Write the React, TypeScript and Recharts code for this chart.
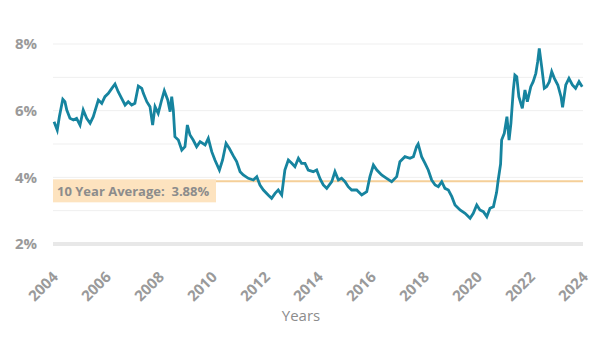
import { CartesianGrid, Line, LineChart, ReferenceLine, XAxis, YAxis } from "recharts";

// decimal year of each reading
const years = [
  2004.04, 2004.16, 2004.24, 2004.37, 2004.45, 2004.52, 2004.64, 2004.77, 2004.89, 2005.02,
  2005.14, 2005.27, 2005.4, 2005.52, 2005.71, 2005.84, 2005.96, 2006.09, 2006.22, 2006.34,
  2006.46, 2006.59, 2006.72, 2006.84, 2006.97, 2007.09, 2007.22, 2007.35, 2007.41, 2007.54,
  2007.66, 2007.76, 2007.85, 2007.97, 2008.1, 2008.2, 2008.33, 2008.42, 2008.48, 2008.54,
  2008.6, 2008.73, 2008.86, 2008.98, 2009.07, 2009.17, 2009.29, 2009.42, 2009.55, 2009.74,
  2009.86, 2009.99, 2010.11, 2010.28, 2010.4, 2010.53, 2010.65, 2010.8, 2010.93, 2011.06,
  2011.18, 2011.37, 2011.56, 2011.69, 2011.81, 2011.94, 2012.12, 2012.25, 2012.38, 2012.5,
  2012.63, 2012.75, 2012.88, 2013.01, 2013.13, 2013.26, 2013.38, 2013.51, 2013.63, 2013.82,
  2013.95, 2014.08, 2014.2, 2014.33, 2014.52, 2014.64, 2014.77, 2014.89, 2015.02, 2015.14,
  2015.27, 2015.46, 2015.65, 2015.84, 2015.96, 2016.09, 2016.22, 2016.4, 2016.59, 2016.78,
  2016.97, 2017.09, 2017.28, 2017.47, 2017.6, 2017.72, 2017.78, 2017.91, 2018.04, 2018.16,
  2018.29, 2018.42, 2018.54, 2018.67, 2018.79, 2018.92, 2019.05, 2019.17, 2019.36, 2019.55,
  2019.74, 2019.86, 2019.99, 2020.11, 2020.24, 2020.37, 2020.49, 2020.62, 2020.74, 2020.8,
  2020.89, 2020.93, 2021.03, 2021.13, 2021.21, 2021.28, 2021.37, 2021.43, 2021.5, 2021.58,
  2021.71, 2021.81, 2021.9, 2022.03, 2022.12, 2022.22, 2022.29, 2022.35, 2022.44, 2022.54,
  2022.63, 2022.73, 2022.82, 2022.92, 2023.05, 2023.17, 2023.23, 2023.35, 2023.47, 2023.6,
  2023.72, 2023.85, 2023.97,
];

// rate in percent at each of those points
const rates = [
  5.67, 5.42, 5.82, 6.34, 6.27, 6.02, 5.77, 5.72, 5.77, 5.57,
  6.02, 5.77, 5.62, 5.82, 6.32, 6.22, 6.42, 6.52, 6.67, 6.8,
  6.57, 6.37, 6.17, 6.27, 6.17, 6.22, 6.74, 6.67, 6.52, 6.27,
  6.12, 5.57, 6.12, 5.92, 6.32, 6.6, 6.32, 5.97, 6.42, 6.02,
  5.22, 5.12, 4.82, 4.92, 5.57, 5.27, 5.12, 4.92, 5.07, 4.97,
  5.17, 4.77, 4.52, 4.22, 4.52, 5.02, 4.87, 4.65, 4.47, 4.17,
  4.07, 3.97, 3.92, 4.02, 3.77, 3.62, 3.47, 3.37, 3.52, 3.62,
  3.47, 4.22, 4.52, 4.42, 4.32, 4.57, 4.42, 4.42, 4.22, 4.17,
  4.22, 3.95, 3.77, 3.67, 3.87, 4.17, 3.92, 3.97, 3.87, 3.72,
  3.62, 3.62, 3.47, 3.57, 4.02, 4.37, 4.22, 4.07, 3.97, 3.87,
  4.02, 4.47, 4.62, 4.57, 4.62, 4.92, 5.0, 4.62, 4.42, 4.22,
  3.92, 3.77, 3.72, 3.87, 3.67, 3.62, 3.42, 3.17, 3.02, 2.92,
  2.77, 2.92, 3.17, 3.02, 2.97, 2.82, 3.07, 3.12, 3.55, 3.92,
  4.4, 5.12, 5.32, 5.82, 5.12, 5.62, 6.62, 7.07, 7.02, 6.42,
  6.07, 6.62, 6.27, 6.72, 6.87, 7.12, 7.47, 7.87, 7.32, 6.67,
  6.72, 6.87, 7.17, 6.97, 6.77, 6.42, 6.1, 6.77, 6.97, 6.77,
  6.67, 6.87, 6.72,
];

const yearTicks = [2004, 2006, 2008, 2010, 2012, 2014, 2016, 2018, 2020, 2022, 2024];
const rateTicks = [2, 3, 4, 5, 6, 7, 8];
const labeledRates = [2, 4, 6, 8];
const tenYearAverage = 3.88;

const data = years.map((year, i) => ({ year, rate: rates[i] }));

const font = "'Open Sans', sans-serif";

function YearTick({ x, y, payload }: any) {
  return (
    <text
      x={x + 6}
      y={y + 26}
      transform={`rotate(-45, ${x + 6}, ${y + 26})`}
      textAnchor="end"
      fill="#9a9a9a"
      fontSize={15}
      fontWeight={700}
      fontFamily={font}
    >
      {payload.value}
    </text>
  );
}

function AverageLabel({ viewBox }: any) {
  const { x, y } = viewBox;
  return (
    <g>
      <rect x={x} y={y - 2} width={163} height={23} fill="#fde3bf" />
      <text
        x={x + 4}
        y={y + 15}
        fill="#8c8c8c"
        fontSize={13}
        fontWeight={700}
        fontFamily={font}
        style={{ whiteSpace: "pre" }}
      >
        {`10 Year Average:  ${tenYearAverage}%`}
      </text>
    </g>
  );
}

export default function App() {
  return (
    <LineChart width={592} height={322} data={data} margin={{ top: 36, right: 17, left: 0, bottom: 0 }}>
      <CartesianGrid stroke="#efefef" vertical={false} />
      <XAxis
        dataKey="year"
        type="number"
        domain={[2004, 2024]}
        ticks={yearTicks}
        height={86}
        tick={<YearTick />}
        tickLine={false}
        axisLine={{ stroke: "#e8e8e8", strokeWidth: 4 }}
        label={{
          value: "Years",
          position: "insideBottom",
          offset: 9,
          dx: -17,
          fill: "#8c8c8c",
          fontSize: 15,
          fontFamily: font,
        }}
      />
      <YAxis
        domain={[2, 8]}
        ticks={rateTicks}
        width={45}
        tickSize={0}
        tickMargin={16}
        tickLine={false}
        axisLine={false}
        tickFormatter={(v) => (labeledRates.includes(v) ? `${v}%` : "")}
        tick={{ fill: "#9a9a9a", fontSize: 15, fontWeight: 700, fontFamily: font }}
      />
      <ReferenceLine y={tenYearAverage} stroke="#f5cf98" strokeWidth={2} label={<AverageLabel />} />
      <Line
        type="linear"
        dataKey="rate"
        stroke="#16849f"
        strokeWidth={2.8}
        dot={false}
        isAnimationActive={false}
      />
    </LineChart>
  );
}
